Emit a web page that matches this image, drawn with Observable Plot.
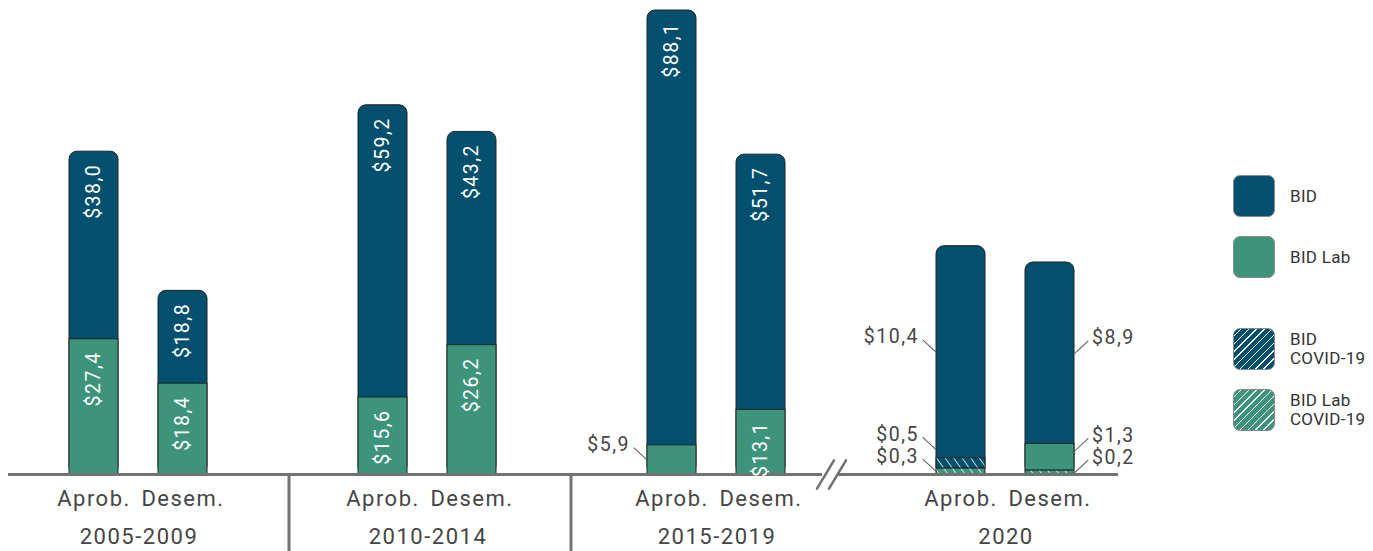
<!DOCTYPE html>
<html>
<head>
<meta charset="utf-8">
<script src="https://cdn.jsdelivr.net/npm/d3@7"></script>
<script src="https://cdn.jsdelivr.net/npm/@observablehq/plot@0.6"></script>
<style>
  html, body { margin: 0; padding: 0; background: #fff; }
  #wrap { position: relative; width: 1373px; height: 551px; overflow: hidden; font-family: Roboto, sans-serif; }
  #legend { position: absolute; left: 1233px; top: 0; }
  .item { position: absolute; left: 0; display: flex; align-items: center; }
  .sw { width: 40px; height: 40px; border: 1px solid #8a8a8a; border-radius: 7px; box-sizing: content-box; }
  .lab { position: absolute; left: 57px; font-size: 17px; line-height: 19px; color: #333; white-space: nowrap; letter-spacing: 0.3px; }
</style>
</head>
<body>
<div id="wrap"></div>
<script>
// ---------------- data ----------------
const periods = ["2005-2009", "2010-2014", "2015-2019", "2020"];
const barTypes = ["Aprob.", "Desem."];
// stacking order, bottom -> top
const seriesNames = ["BID Lab COVID-19", "BID Lab", "BID COVID-19", "BID"];
// one value per bar: period x (Aprob., Desem.)
const bidValues         = [38.0, 18.8, 59.2, 43.2, 88.1, 51.7, 10.4, 8.9];
const bidLabValues      = [27.4, 18.4, 15.6, 26.2, 5.9, 13.1, 0, 1.3];
const bidCovidValues    = [0, 0, 0, 0, 0, 0, 0.5, 0];
const bidLabCovidValues = [0, 0, 0, 0, 0, 0, 0.3, 0.2];
const legendItems = [
  {key: "BID", lines: ["BID"]},
  {key: "BID Lab", lines: ["BID Lab"]},
  {key: "BID COVID-19", lines: ["BID", "COVID-19"]},
  {key: "BID Lab COVID-19", lines: ["BID Lab", "COVID-19"]}
];

// -------------- settings --------------
const brokenPeriod = "2020";   // shown on an expanded scale (axis break)
const breakFactor = 4.13;
const insideMin = 10;
const labelGap = 4.4;
const BLUE = "#02506d", GREEN = "#3e947a", OUTLINE = "#1e2528", GREY = "#727272", TEXT = "#454545";

const seriesValues = {
  "BID Lab COVID-19": bidLabCovidValues,
  "BID Lab": bidLabValues,
  "BID COVID-19": bidCovidValues,
  "BID": bidValues
};

const segments = [];
const barsData = [];
for (let i = 0; i < bidValues.length; i++) {
  const period = periods[Math.floor(i / 2)];
  const bar = barTypes[i % 2];
  const k = period === brokenPeriod ? breakFactor : 1;
  let cum = 0;
  const segs = [];
  for (const s of seriesNames) {
    const v = seriesValues[s][i];
    if (!v) continue;
    segs.push({period, bar, series: s, value: v, y1: cum * k, y2: (cum + v) * k, top: false});
    cum += v;
  }
  segs[segs.length - 1].top = true;
  // outside (callout) labels: broken period or small segments; stacked to avoid overlap
  let prev = -Infinity;
  for (const s of segs) {
    s.inside = s.period !== brokenPeriod && s.value >= insideMin;
    s.side = bar === barTypes[0] ? "left" : "right";
    if (!s.inside) {
      s.anchor = Math.max((s.y1 + s.y2) / 2, prev + labelGap);
      prev = s.anchor;
    }
  }
  segments.push(...segs);
  barsData.push({period, bar, total: cum * k, topSeries: segs[segs.length - 1].series});
}

const fmt = v => "$" + v.toFixed(1).replace(".", ",");
const inside = segments.filter(d => d.inside);
const outLeft = segments.filter(d => !d.inside && d.side === "left");
const outRight = segments.filter(d => !d.inside && d.side === "right");
const lineShape = {draw(ctx, l) { ctx.moveTo(0, 0); ctx.lineTo(0, -l); }};

const colorRange = ["url(#hatch-lab)", GREEN, "url(#hatch-bid)", BLUE];

const baseline = [
  {period: "2005-2009", y: 0, insetLeft: 14, insetRight: 0},
  {period: "2010-2014", y: 0, insetLeft: 0, insetRight: 0},
  {period: "2015-2019", y: 0, insetLeft: 0, insetRight: 39},
  {period: "2020", y: 0, insetLeft: -23, insetRight: 32}
];
const dividers = [
  {period: "2010-2014", bar: "Aprob.", y: 0, dx: -94},
  {period: "2015-2019", bar: "Aprob.", y: 0, dx: -101}
];
const breakMark = [{period: brokenPeriod, bar: "Aprob.", y: 0}];

const marks = [
  // full bar with rounded top (colour of its top series)
  Plot.barY(barsData, {fx: "period", x: "bar", y1: 0, y2: "total", fill: "topSeries", rx: 8,
    stroke: OUTLINE, strokeWidth: 1}),
  // lower segments drawn on top
  Plot.barY(segments.filter(d => !d.top), {fx: "period", x: "bar", y1: "y1", y2: "y2", fill: "series",
    stroke: OUTLINE, strokeWidth: 1}),
  // baseline pieces
  ...baseline.map(b => Plot.ruleY([b], {fx: "period", y: "y", insetLeft: b.insetLeft, insetRight: b.insetRight,
    stroke: GREY, strokeWidth: 3})),
  // period dividers
  ...dividers.map(d => Plot.ruleX([d], {fx: "period", x: "bar", y1: "y", y2: "y", insetBottom: -77, dx: d.dx,
    stroke: GREY, strokeWidth: 3})),
  // axis break slashes
  Plot.vector(breakMark, {fx: "period", x: "bar", y: "y", length: 33, rotate: 31, anchor: "middle",
    shape: lineShape, dx: -135.5, stroke: GREY, strokeWidth: 2.5}),
  Plot.vector(breakMark, {fx: "period", x: "bar", y: "y", length: 33, rotate: 31, anchor: "middle",
    shape: lineShape, dx: -123.5, stroke: GREY, strokeWidth: 2.5}),
  // in-bar labels
  Plot.text(inside, {fx: "period", x: "bar", y: "y2", text: d => fmt(d.value), rotate: -90,
    textAnchor: "end", dy: 12, fill: "white", fontSize: 19.5}),
  // callouts
  Plot.vector(outLeft, {fx: "period", x: "bar", y: "anchor", length: 17.7, rotate: -47, anchor: "start",
    shape: lineShape, dx: -25, stroke: "#5a5a5a", strokeWidth: 1}),
  Plot.vector(outRight, {fx: "period", x: "bar", y: "anchor", length: 17.7, rotate: 47, anchor: "start",
    shape: lineShape, dx: 25, stroke: "#5a5a5a", strokeWidth: 1}),
  Plot.text(outLeft, {fx: "period", x: "bar", y: "anchor", text: d => fmt(d.value), textAnchor: "end",
    dx: -42, dy: -15, fill: TEXT, fontSize: 19.5}),
  Plot.text(outRight, {fx: "period", x: "bar", y: "anchor", text: d => fmt(d.value), textAnchor: "start",
    dx: 42, dy: -15, fill: TEXT, fontSize: 19.5}),
  // category labels
  Plot.text(barsData, {fx: "period", x: "bar", text: "bar", frameAnchor: "bottom", dy: 31,
    fill: TEXT, fontSize: 22}),
  Plot.text(periods, {fx: d => d, text: d => d, frameAnchor: "bottom", dy: 69, fill: TEXT, fontSize: 22})
];

const chart = Plot.plot({
  width: 1373,
  height: 551,
  marginLeft: -7,
  marginRight: 223,
  marginTop: 10,
  marginBottom: 77,
  fx: {domain: periods, padding: 0, axis: null, label: null},
  x: {domain: barTypes, paddingInner: 4 / 9, paddingOuter: 0.829, axis: null, label: null},
  y: {domain: [0, 94], axis: null},
  color: {domain: seriesNames, range: colorRange},
  style: {fontFamily: "Roboto, sans-serif", background: "white", letterSpacing: "1.5px", overflow: "visible"},
  marks
});

// hatch patterns
const defs = d3.select(chart).insert("defs", ":first-child");
function hatch(id, base) {
  const p = defs.append("pattern").attr("id", id).attr("patternUnits", "userSpaceOnUse")
    .attr("width", 7).attr("height", 7).attr("patternTransform", "rotate(-35)");
  p.append("rect").attr("width", 7).attr("height", 7).attr("fill", base);
  p.append("line").attr("x1", 3.5).attr("x2", 3.5).attr("y1", 0).attr("y2", 7)
    .attr("stroke", "#fff").attr("stroke-width", 1).attr("stroke-opacity", 0.75);
}
hatch("hatch-bid", BLUE);
hatch("hatch-lab", GREEN);

const wrap = document.getElementById("wrap");
wrap.appendChild(chart);

// legend
const legendColors = {
  "BID": BLUE,
  "BID Lab": GREEN,
  "BID COVID-19": `repeating-linear-gradient(135deg, ${BLUE} 0px, ${BLUE} 4.5px, rgba(255,255,255,0.7) 4.5px, rgba(255,255,255,0.7) 5.5px)`,
  "BID Lab COVID-19": `repeating-linear-gradient(135deg, ${GREEN} 0px, ${GREEN} 4.5px, rgba(255,255,255,0.7) 4.5px, rgba(255,255,255,0.7) 5.5px)`
};
const legendTops = [175, 236, 328, 389];
const legend = d3.select(wrap).append("div").attr("id", "legend");
legendItems.forEach((it, i) => {
  const item = legend.append("div").attr("class", "item").style("top", legendTops[i] + "px");
  item.append("div").attr("class", "sw").style("background", legendColors[it.key]);
  item.append("div").attr("class", "lab")
    .style("top", (21 - it.lines.length * 9.5) + "px")
    .html(it.lines.join("<br>"));
});
</script>
</body>
</html>
